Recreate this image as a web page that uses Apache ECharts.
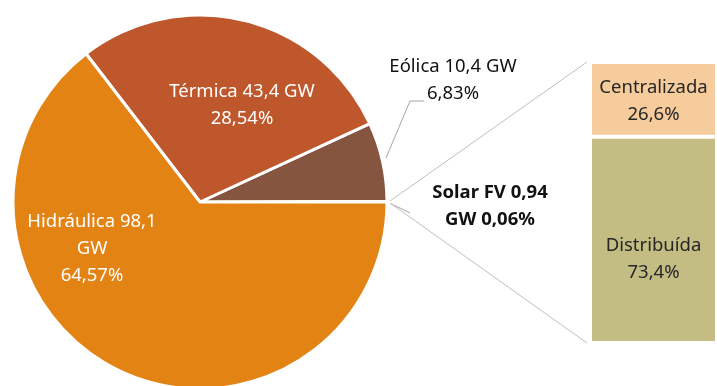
<!DOCTYPE html>
<html><head><meta charset="utf-8">
<script src="https://cdn.jsdelivr.net/npm/echarts@6/dist/echarts.min.js"></script>
<style>html,body{margin:0;padding:0;background:#fff}#c{width:717px;height:386px}</style>
</head><body><div id="c"></div>
<script>
// ---- data ----
const pieNames = ['Solar FV', 'Eólica', 'Térmica', 'Hidráulica'];
const pieGW = [0.94, 10.4, 43.4, 98.1];
const pieShare = [0.06, 6.83, 28.54, 64.57];
const pieLabels = ['Solar FV 0,94\nGW 0,06%', 'Eólica 10,4 GW\n6,83%', 'Térmica 43,4 GW\n28,54%', 'Hidráulica 98,1\nGW\n64,57%'];
const barCategories = ['Solar FV'];
const barNames = ['Distribuída', 'Centralizada'];
const barShare = [73.4, 26.6];
const barLabels = ['Distribuída\n73,4%', 'Centralizada\n26,6%'];

// ---- styles / layout ----
const pieColors = ['#8a5a44', '#85553f', '#be572b', '#e38314'];
const barColors = ['#c3bc83', '#f6cc9c'];
const barLabelOffsets = [[0, 19], [0, 2]];
const FONT = 'Noto Sans';
const FS = 18.5;
const pieCenter = [200, 202];
const pieRadius = 187;
const labelPos = [
  {x: 490, y: 206, line: [[391, 204], [400, 208], [410, 213]]},
  {x: 453, y: 80, line: [[386, 158], [410, 101], [424, 101]]},
  {x: 242, y: 105},
  {x: 92, y: 249}
];
const gridLeft = 590;

const chart = echarts.init(document.getElementById('c'), null, {renderer: 'canvas'});

const pieData = pieNames.map((n, i) => {
  const outside = i < 2;
  return {
    name: n,
    value: pieShare[i],
    itemStyle: {color: pieColors[i]},
    label: {
      show: true,
      position: outside ? 'outside' : 'inside',
      formatter: pieLabels[i],
      color: outside ? '#111' : '#fff',
      fontWeight: i === 0 ? 'bold' : 'normal',
      fontFamily: FONT,
      fontSize: FS,
      lineHeight: 27,
      align: 'center'
    },
    labelLine: {show: outside, lineStyle: {color: '#a6a6a6', width: 1}, smooth: false}
  };
});

const option = {
  animation: false,
  backgroundColor: '#fff',
  grid: {left: gridLeft, right: -7, top: 62, bottom: 43},
  xAxis: {type: 'category', data: barCategories, show: false},
  yAxis: {type: 'value', min: 0, max: 100, show: false},
  series: [
    {
      type: 'pie',
      center: pieCenter,
      radius: pieRadius,
      startAngle: 0,
      clockwise: false,
      avoidLabelOverlap: false,
      itemStyle: {borderColor: '#fff', borderWidth: 3},
      data: pieData,
      labelLayout: function (p) {
        const lp = labelPos[p.dataIndex];
        const r = {x: lp.x, y: lp.y, align: 'center', verticalAlign: 'middle'};
        if (lp.line) r.labelLinePoints = lp.line;
        return r;
      }
    },
    ...barNames.map((n, i) => ({
      type: 'bar',
      name: n,
      stack: 'solar',
      barWidth: '100%',
      data: [barShare[i]],
      itemStyle: {color: barColors[i], borderColor: '#fff', borderWidth: 2},
      label: {
        show: true, position: 'inside', formatter: barLabels[i], offset: barLabelOffsets[i],
        color: '#262626', fontFamily: FONT, fontSize: FS, lineHeight: 27
      }
    }))
  ]
};
chart.setOption(option);

// connector lines from pie edge to the bar's outer corners
const topY = chart.convertToPixel({yAxisIndex: 0}, 100);
const botY = chart.convertToPixel({yAxisIndex: 0}, 0);
const px = pieCenter[0] + pieRadius + 3, py = pieCenter[1];
chart.setOption({
  graphic: [
    {type: 'line', shape: {x1: px, y1: py - 1, x2: gridLeft - 3, y2: topY}, style: {stroke: '#bfbfbf', lineWidth: 1}, z: 10},
    {type: 'line', shape: {x1: px, y1: py + 1, x2: gridLeft - 3, y2: botY}, style: {stroke: '#bfbfbf', lineWidth: 1}, z: 10}
  ]
});
</script>
</body></html>
